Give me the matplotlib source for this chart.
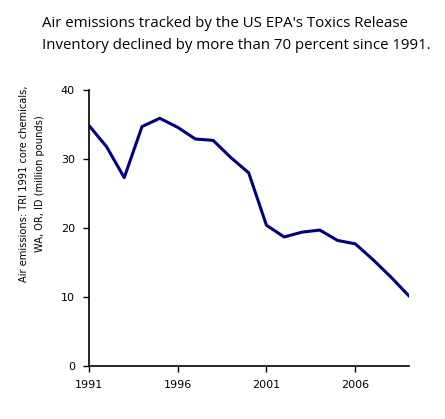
import matplotlib
matplotlib.use("Agg")
import matplotlib.pyplot as plt

# TRI 1991 core chemicals, WA/OR/ID air emissions (million pounds)
years = [1991, 1992, 1993, 1994, 1995, 1996, 1997, 1998, 1999, 2000,
         2001, 2002, 2003, 2004, 2005, 2006, 2007, 2008, 2009]
emissions = [34.9, 31.8, 27.3, 34.7, 35.9, 34.6, 32.9, 32.7, 30.2, 28.0,
             20.4, 18.7, 19.4, 19.7, 18.2, 17.7, 15.4, 12.9, 10.2]
x_ticks = [1991, 1996, 2001, 2006]
y_ticks = [0, 10, 20, 30, 40]

title = ("Air emissions tracked by the US EPA's Toxics Release\n"
         "Inventory declined by more than 70 percent since 1991.")
ylabel = "Air emissions: TRI 1991 core chemicals,\nWA, OR, ID (million pounds)"

fig = plt.figure(figsize=(4.45, 4.19), dpi=100)
ax = fig.add_axes([0.1993, 0.1265, 0.719, 0.6587])

ax.plot(years, emissions, color="#000080", linewidth=2.2, solid_joinstyle="round")

ax.set_xlim(1991, 2009)
ax.set_ylim(0, 40)
ax.set_xticks(x_ticks)
ax.set_yticks(y_ticks)
ax.tick_params(labelsize=8, length=4, width=1, direction="out", pad=6)
for s in ["top", "right"]:
    ax.spines[s].set_visible(False)
for s in ["left", "bottom"]:
    ax.spines[s].set_linewidth(1.2)

fig.text(0.094, 1 - 34.5 / 419, title, ha="left", va="center", fontsize=10.8,
         family="Open Sans", linespacing=1.65)
fig.text(0.072, 1 - 184 / 419, ylabel, ha="center", va="center", rotation=90,
         fontsize=7.1, linespacing=1.75)

fig.savefig("out.png", dpi=100)
